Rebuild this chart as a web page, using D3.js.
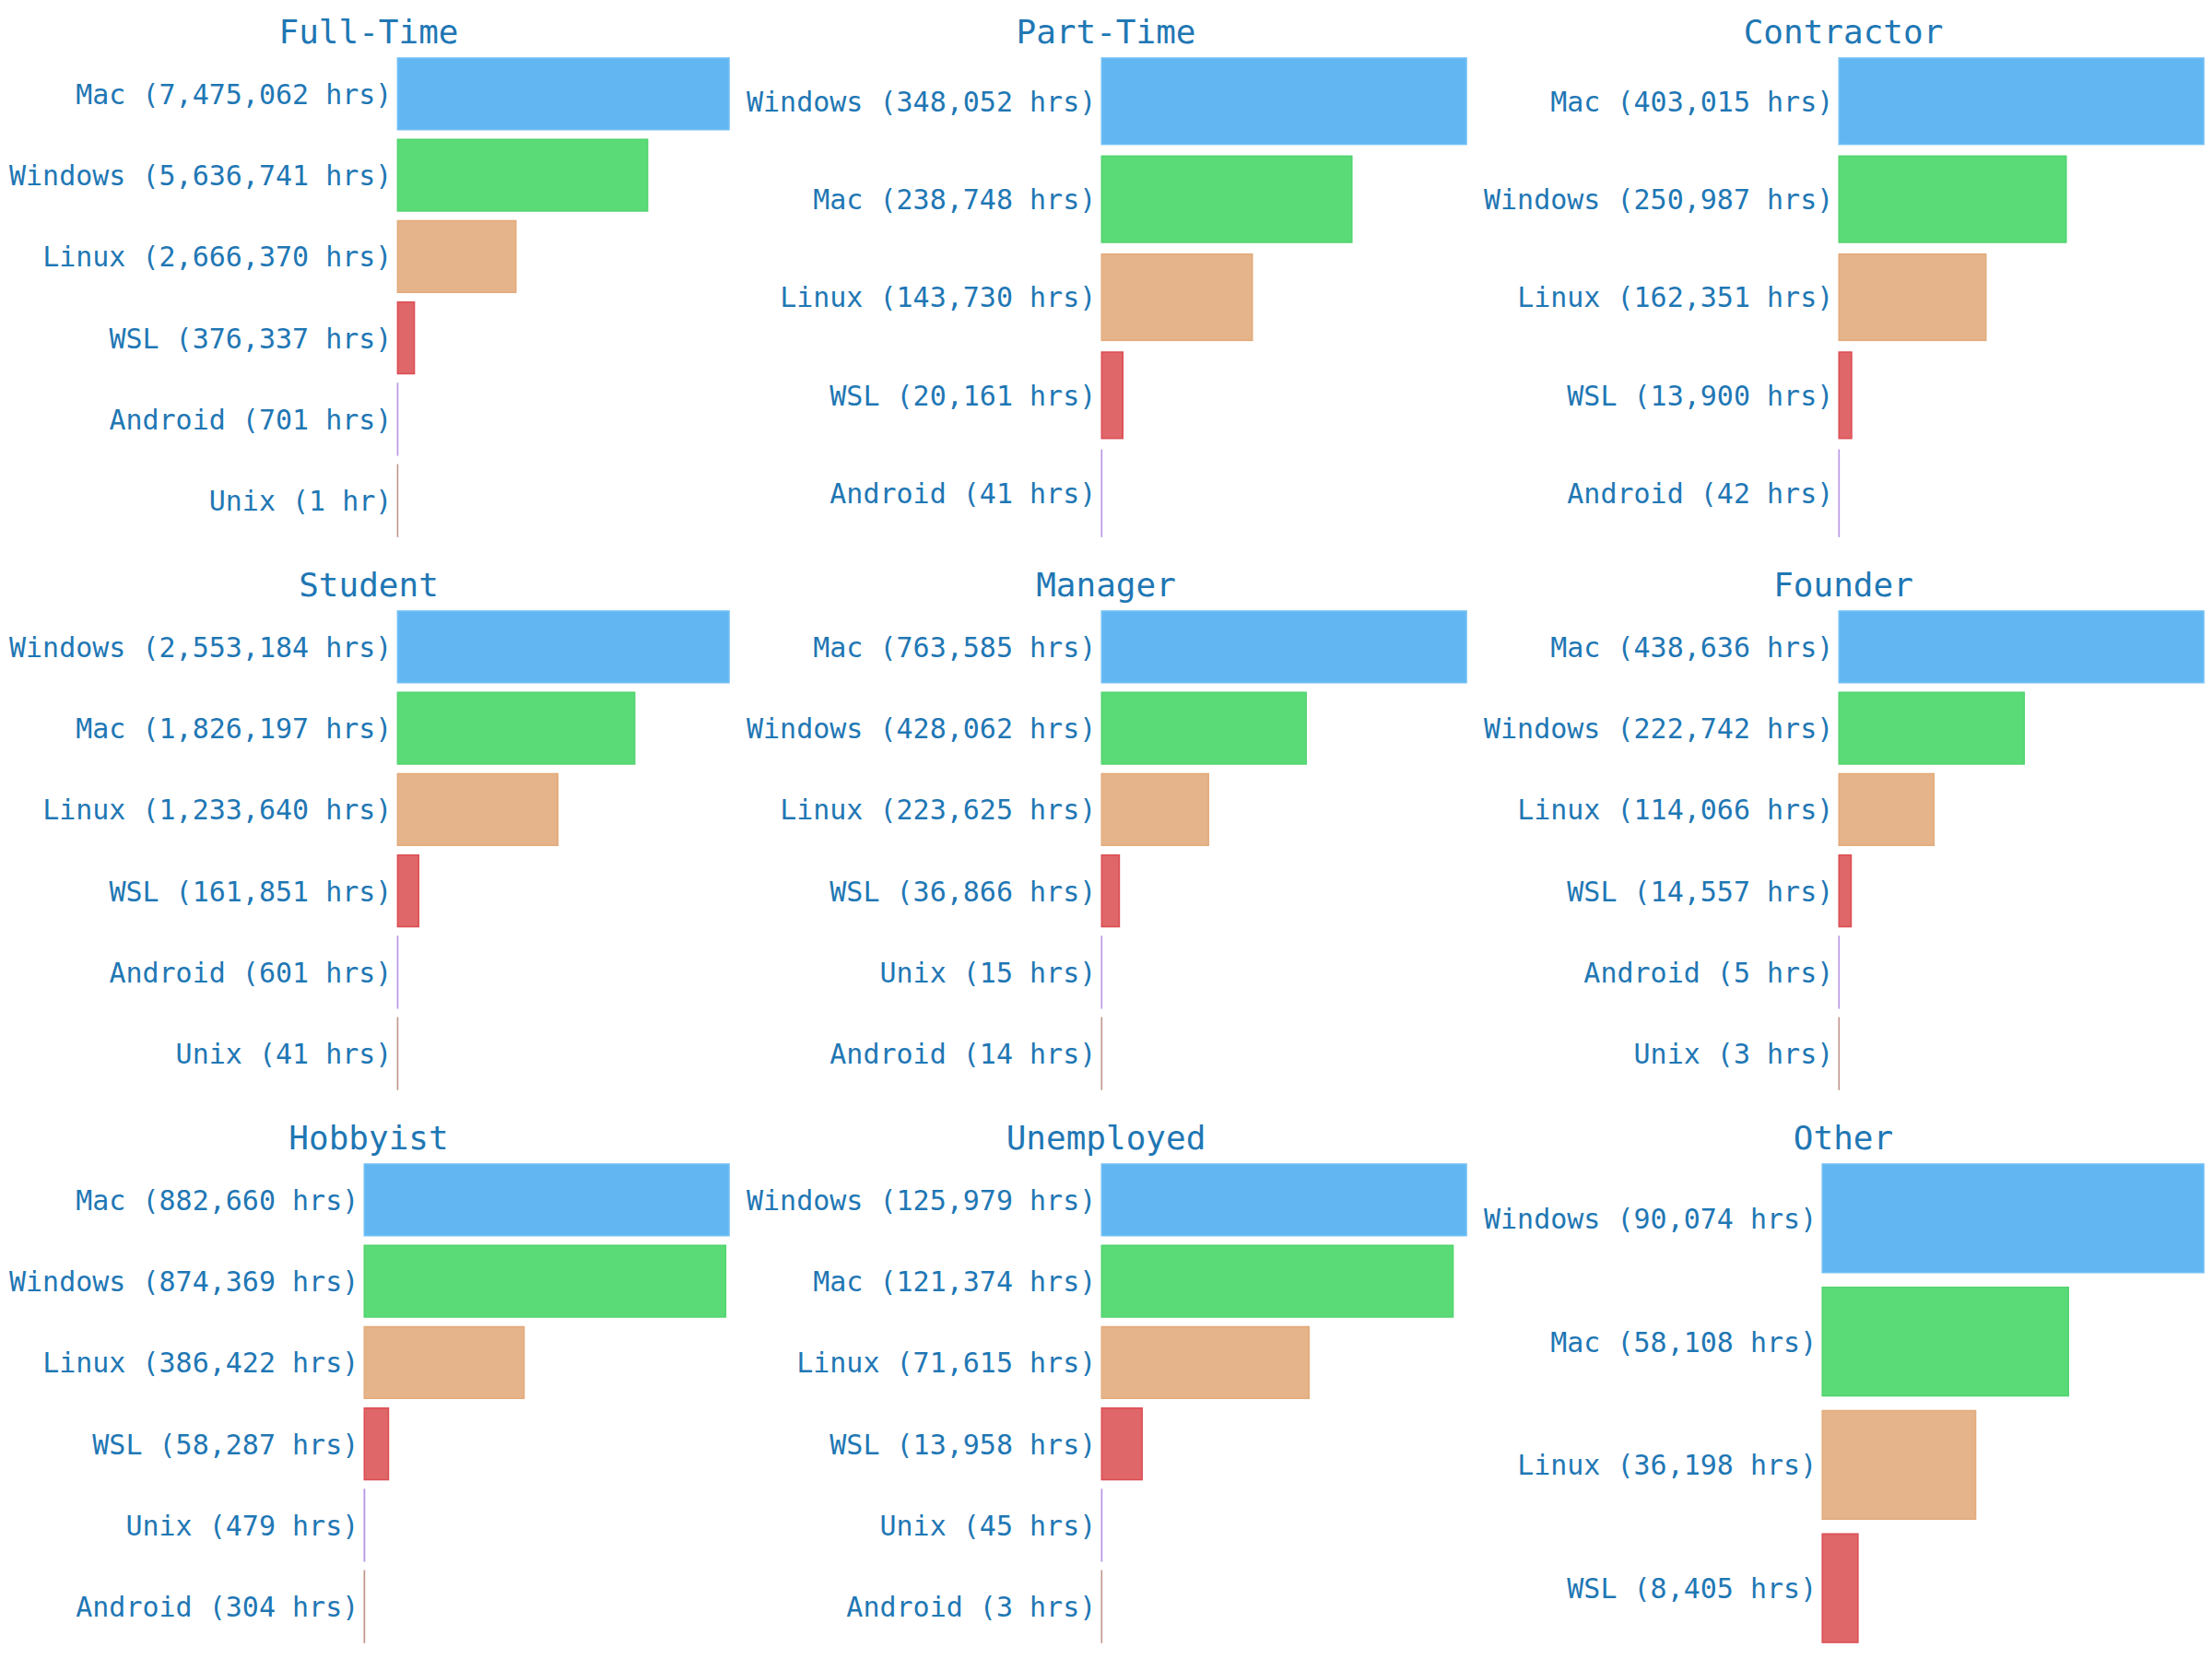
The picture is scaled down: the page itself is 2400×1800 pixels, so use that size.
<!DOCTYPE html>
<html>
<head>
<meta charset="utf-8">
<script src="https://cdn.jsdelivr.net/npm/d3@7"></script>
<style>
  html, body { margin: 0; padding: 0; background: #ffffff; }
  svg { display: block; }
</style>
</head>
<body>
<svg id="chart" width="2400" height="1800"></svg>
<script>
// ---- data ----
const panelTitles = ["Full-Time", "Part-Time", "Contractor", "Student", "Manager", "Founder", "Hobbyist", "Unemployed", "Other"];

const fullTimeOS = ["Mac", "Windows", "Linux", "WSL", "Android", "Unix"];
const fullTimeHrs = [7475062, 5636741, 2666370, 376337, 701, 1];

const partTimeOS = ["Windows", "Mac", "Linux", "WSL", "Android"];
const partTimeHrs = [348052, 238748, 143730, 20161, 41];

const contractorOS = ["Mac", "Windows", "Linux", "WSL", "Android"];
const contractorHrs = [403015, 250987, 162351, 13900, 42];

const studentOS = ["Windows", "Mac", "Linux", "WSL", "Android", "Unix"];
const studentHrs = [2553184, 1826197, 1233640, 161851, 601, 41];

const managerOS = ["Mac", "Windows", "Linux", "WSL", "Unix", "Android"];
const managerHrs = [763585, 428062, 223625, 36866, 15, 14];

const founderOS = ["Mac", "Windows", "Linux", "WSL", "Android", "Unix"];
const founderHrs = [438636, 222742, 114066, 14557, 5, 3];

const hobbyistOS = ["Mac", "Windows", "Linux", "WSL", "Unix", "Android"];
const hobbyistHrs = [882660, 874369, 386422, 58287, 479, 304];

const unemployedOS = ["Windows", "Mac", "Linux", "WSL", "Unix", "Android"];
const unemployedHrs = [125979, 121374, 71615, 13958, 45, 3];

const otherOS = ["Windows", "Mac", "Linux", "WSL"];
const otherHrs = [90074, 58108, 36198, 8405];

const panelOS = [fullTimeOS, partTimeOS, contractorOS, studentOS, managerOS, founderOS, hobbyistOS, unemployedOS, otherOS];
const panelHrs = [fullTimeHrs, partTimeHrs, contractorHrs, studentHrs, managerHrs, founderHrs, hobbyistHrs, unemployedHrs, otherHrs];

// colours by rank
const rankFill   = ["#62b7f2", "#5bdb77", "#e5b48a", "#e06769", "#c4a6e6", "#c9a39a"];
const rankStroke = ["#74c0f4", "#52d46f", "#e3ab7c", "#dc4f55", "#b796e4", "#c0968c"];

// ---- layout ----
const cellW = 800, cellH = 600;
const textColor = "#1f77b4";
const fontFamily = "'DejaVu Sans Mono', monospace";
const labelSize = 30, titleSize = 36;

const svg = d3.select("#chart");
const fmt = d3.format(",");
const labelText = (os, v) => `${os} (${fmt(v)} ${v === 1 ? "hr" : "hrs"})`;

// helper to measure text width
const measurer = svg.append("text")
  .attr("font-family", fontFamily).attr("font-size", labelSize)
  .attr("visibility", "hidden");
function textWidth(s) { measurer.text(s); return measurer.node().getComputedTextLength(); }

panelTitles.forEach((title, i) => {
  const col = i % 3, row = Math.floor(i / 3);
  const cx = col * cellW, cy = row * cellH;
  const osList = panelOS[i], hrs = panelHrs[i];
  const labels = osList.map((o, k) => labelText(o, hrs[k]));
  const maxW = d3.max(labels, textWidth);
  const labelRight = cx + 10 + maxW;
  const barLeft = labelRight + 6;
  const barRight = cx + 791;

  const g = svg.append("g");

  const x = d3.scaleLinear().domain([0, d3.max(hrs)]).range([barLeft, barRight]);
  const y = d3.scaleBand().domain(osList).range([cy + 63, cy + 582]).paddingInner(0.12).paddingOuter(0);

  g.append("text")
    .attr("x", cx + cellW / 2)
    .attr("y", cy + 47)
    .attr("text-anchor", "middle")
    .attr("font-family", fontFamily)
    .attr("font-size", titleSize)
    .attr("fill", textColor)
    .text(title);

  const data = osList.map((o, k) => ({ os: o, v: hrs[k], k }));

  g.selectAll("rect.bar").data(data).enter().append("rect")
    .attr("class", "bar")
    .attr("x", x(0))
    .attr("y", d => y(d.os))
    .attr("width", d => Math.max(0, x(d.v) - x(0)))
    .attr("height", y.bandwidth())
    .attr("fill", d => rankFill[d.k])
    .attr("stroke", d => rankStroke[d.k])
    .attr("stroke-width", 1.6);

  g.selectAll("text.lbl").data(data).enter().append("text")
    .attr("class", "lbl")
    .attr("x", labelRight)
    .attr("y", d => y(d.os) + y.bandwidth() / 2 + 0.365 * labelSize)
    .attr("text-anchor", "end")
    .attr("font-family", fontFamily)
    .attr("font-size", labelSize)
    .attr("fill", textColor)
    .text(d => labelText(d.os, d.v));
});
measurer.remove();
</script>
</body>
</html>
